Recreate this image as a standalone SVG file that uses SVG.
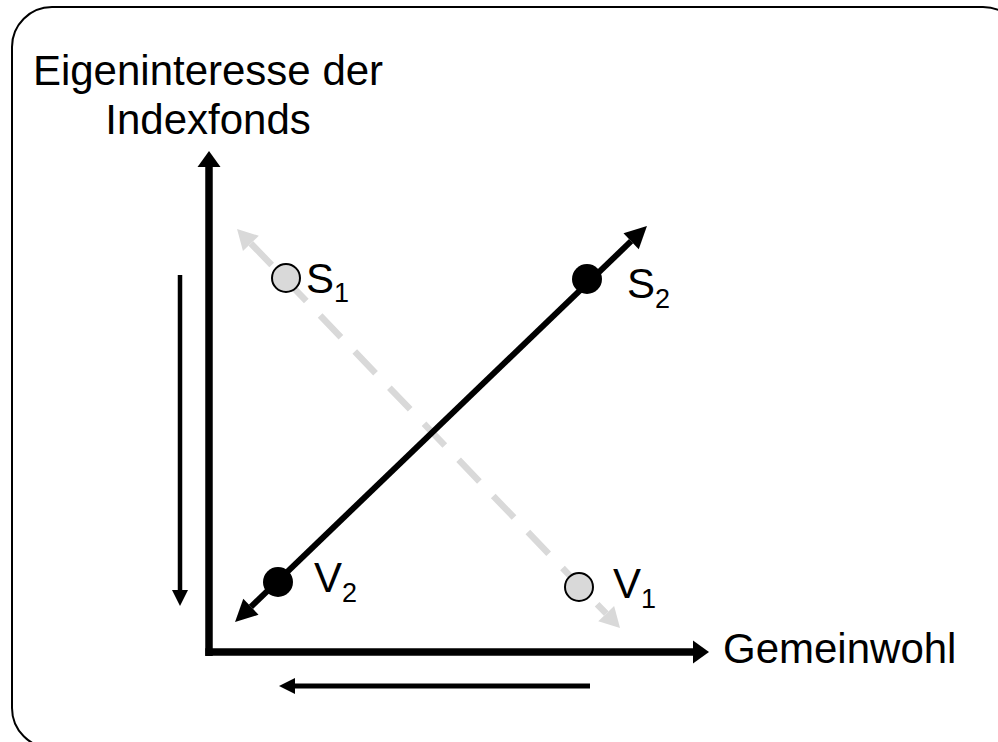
<svg xmlns="http://www.w3.org/2000/svg" width="998" height="742" viewBox="0 0 998 742">
<style>
  text { font-family: "Liberation Sans", Arial, sans-serif; fill: #000; }
  .lbl { font-size: 42px; }
  .sub { font-size: 27px; }
  .open { fill: #d9d9d9; stroke: #000; stroke-width: 2; }
  .dot { fill: #000; }
</style>
<defs>
  <marker id="axisHead" markerUnits="userSpaceOnUse" markerWidth="30" markerHeight="30" refX="0" refY="0" viewBox="-2 -15 30 30" orient="auto-start-reverse">
    <path d="M0,-11.5 L16,0 L0,11.5 Z" fill="#000"/>
  </marker>
  <marker id="thinHead" markerUnits="userSpaceOnUse" markerWidth="24" markerHeight="24" refX="0" refY="0" viewBox="-2 -12 24 24" orient="auto-start-reverse">
    <path d="M0,-8 L16,0 L0,8 Z" fill="#000"/>
  </marker>
  <marker id="diagHead" markerUnits="userSpaceOnUse" markerWidth="30" markerHeight="30" refX="0" refY="0" viewBox="-2 -15 30 30" orient="auto-start-reverse">
    <path d="M0,-11 L22,0 L0,11 Z" fill="#000"/>
  </marker>
  <marker id="grayHead" markerUnits="userSpaceOnUse" markerWidth="30" markerHeight="30" refX="0" refY="0" viewBox="-2 -15 30 30" orient="auto-start-reverse">
    <path d="M0,-11 L20,0 L0,11 Z" fill="#d9d9d9"/>
  </marker>
</defs>

<rect id="frame" x="12" y="7" width="1011" height="741" rx="40" ry="40" fill="#fff" stroke="#000" stroke-width="2"/>

<g id="connectors" fill="none">
  <path id="y-axis" d="M209,656 L209,167" stroke="#000" stroke-width="7.5" marker-end="url(#axisHead)"/>
  <path id="x-axis" d="M205.3,652 L693,652" stroke="#000" stroke-width="7.5" marker-end="url(#axisHead)"/>
  <path id="down-arrow" d="M180,275 L180,590" stroke="#000" stroke-width="4.5" marker-end="url(#thinHead)"/>
  <path id="left-arrow" d="M590,686 L295,686" stroke="#000" stroke-width="5" marker-end="url(#thinHead)"/>
  <path id="gray-diag" d="M250.9,243.4 L606.2,613.6" stroke="#d9d9d9" stroke-width="6.5" stroke-dasharray="30 20" marker-start="url(#grayHead)" marker-end="url(#grayHead)"/>
  <path id="black-diag" d="M250.9,606.8 L631.1,241.2" stroke="#000" stroke-width="6" marker-start="url(#diagHead)" marker-end="url(#diagHead)"/>
</g>

<g id="title">
  <text class="lbl" x="208" y="85" text-anchor="middle">Eigeninteresse der</text>
  <text class="lbl" x="208" y="134" text-anchor="middle">Indexfonds</text>
</g>
<g id="x-label">
  <text class="lbl" x="723" y="663">Gemeinwohl</text>
</g>

<g id="S1">
  <circle class="open" cx="286" cy="278" r="14"/>
  <text class="lbl" x="306" y="293">S<tspan class="sub" dy="9">1</tspan></text>
</g>
<g id="V1">
  <circle class="open" cx="579" cy="587" r="14"/>
  <text class="lbl" x="613" y="598">V<tspan class="sub" dy="10">1</tspan></text>
</g>
<g id="S2">
  <circle class="dot" cx="587" cy="279" r="15"/>
  <text class="lbl" x="627" y="298">S<tspan class="sub" dy="10">2</tspan></text>
</g>
<g id="V2">
  <circle class="dot" cx="278" cy="582" r="15"/>
  <text class="lbl" x="314" y="592">V<tspan class="sub" dy="10">2</tspan></text>
</g>
</svg>
